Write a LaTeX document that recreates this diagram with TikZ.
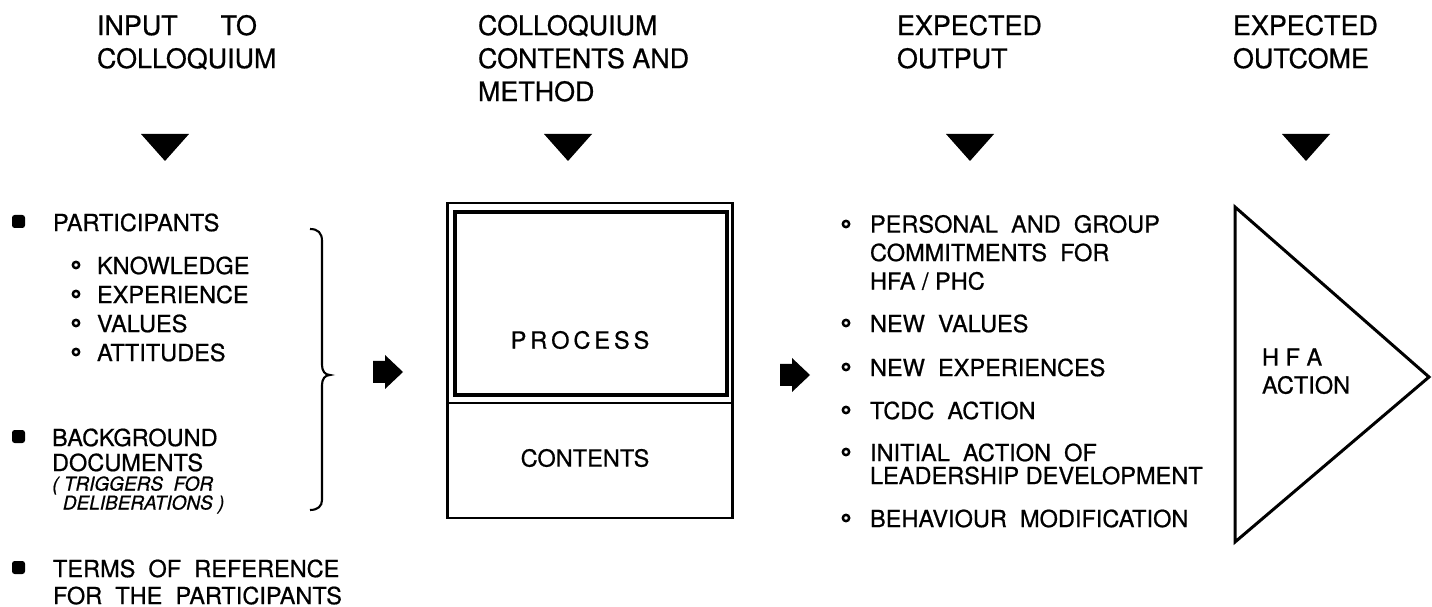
\documentclass[tikz,border=0pt]{standalone}
\usepackage{fontspec}
\setmainfont{TeX Gyre Heros}[FakeBold=0.7]
\tikzset{
  headtxt/.style={anchor=north west, inner sep=0pt, outer sep=0pt, align=left, font=\fontsize{15.3}{18.8}\selectfont},
  bodytxt/.style={anchor=north west, inner sep=0pt, outer sep=0pt, align=left, font=\fontsize{13.4}{#1}\selectfont},
  bodytxt/.default=16.2,
  boxtxt/.style={anchor=center, inner sep=0pt, font=\fontsize{13.4}{16.2}\selectfont},
  dot/.style={draw, line width=1.4pt},
  frame/.style={line width=1.7pt}
}
\begin{document}
\begin{tikzpicture}[x=0.02cm, y=-0.02cm]
        \useasboundingbox (0,0) rectangle (1432,607);
        % titles
        \node [headtxt] (hin) at (97,15) {INPUT\hspace{1.6em}TO\\COLLOQUIUM};
        \node [headtxt] (hcon) at (478,15) {COLLOQUIUM\\CONTENTS AND\\METHOD};
        \node [headtxt] (hout) at (897,15) {EXPECTED\\OUTPUT};
        \node [headtxt] (hoc) at (1233,15) {EXPECTED\\OUTCOME};
        % down markers
        \foreach \x in {165,568,970,1306} \fill (\x-24,134) -- (\x+24,134) -- (\x,161) -- cycle;
        % input
        \fill [rounded corners=1.5pt] (12,215) rectangle (25,228);\fill [rounded corners=1.5pt] (12,430) rectangle (25,443);\fill [rounded corners=1.5pt] (12,561) rectangle (25,574);
        \node [bodytxt] (partic) at (53,213.5) {PARTICIPANTS};
        \node [bodytxt=16.5] (partlist) at (97,256.5) {KNOWLEDGE\\EXPERIENCE\\VALUES\\ATTITUDES};
        \foreach \y in {265,294,323,352} \draw [dot] (76,\y) circle (1.8pt);
        \node [bodytxt=14.2] (backdoc) at (52,428.5) {BACKGROUND\\DOCUMENTS};
        \node [anchor=north west, inner sep=0pt, align=left, font=\fontsize{10.8}{10.8}\selectfont\itshape] (trig) at (52,476) {( TRIGGERS\ \ FOR\\\ \ DELIBERATIONS )};
        \node [bodytxt=15.4] (terms) at (53,559.5) {TERMS\ \ OF\ \ REFERENCE\\FOR\ \ THE\ \ PARTICIPANTS};
        \draw [line width=1.2pt] (310,229) .. controls (318,229) and (322,233) .. (322,241) -- (322,365) .. controls (322,371) and (325,375) .. (330,375) .. controls (325,375) and (322,379) .. (322,385) -- (322,500) .. controls (322,506) and (318,510) .. (310,510);
        \fill (373,361) -- (385,361) -- (385,355) -- (403,372) -- (385,389) -- (385,383) -- (373,383) -- cycle;
        % colloquium box
        \draw [frame] (447,203) rectangle (732,518);
        \draw [frame] (447,403) -- (732,403);
        \draw [line width=1.9pt] (455,212) rectangle (727,395);
        \node [boxtxt] (proc) at (580,340) {P\,R\,O\,C\,E\,S\,S};
        \node [boxtxt] (cont) at (585,458) {CONTENTS};
        % output
        \fill (780,364) -- (792,364) -- (792,358) -- (810,375) -- (792,392) -- (792,386) -- (780,386) -- cycle;
        \foreach \y in {224,323,367,410,452,518} \draw [dot] (846,\y) circle (1.8pt);
        \node [bodytxt=16.2] (out1) at (870,215) {PERSONAL\ \ AND\ \ GROUP\\COMMITMENTS\ \ FOR\\HFA / PHC};
        \node [bodytxt] (out2) at (870,314.5) {NEW\ \ VALUES};
        \node [bodytxt] (out3) at (870,358.5) {NEW\ \ EXPERIENCES};
        \node [bodytxt] (out4) at (870,401.5) {TCDC\ \ ACTION};
        \node [bodytxt=13.1] (out5) at (870,443.5) {INITIAL\ \ ACTION\ \ OF\\LEADERSHIP DEVELOPMENT};
        \node [bodytxt] (out6) at (870,509.5) {BEHAVIOUR\ \ MODIFICATION};
        % outcome
        \draw [frame, line join=miter] (1235,207) -- (1429,377) -- (1235,542) -- cycle;
        \node [bodytxt=15.9] (hfa) at (1262,348.5) {H F A\\ACTION};
\end{tikzpicture}
\end{document}
